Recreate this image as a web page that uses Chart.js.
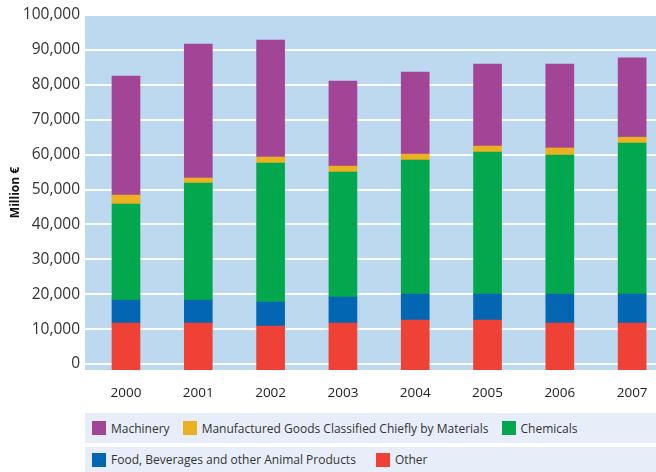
<!DOCTYPE html>
<html><head><meta charset="utf-8">
<script src="https://cdn.jsdelivr.net/npm/chart.js@4"></script>
<style>
html,body{margin:0;padding:0;background:#fff;}
#wrap{position:relative;width:656px;height:472px;overflow:hidden;font-family:"Open Sans",sans-serif;}
#c{position:absolute;left:0;top:0;}
.lrow{position:absolute;left:85px;width:564px;padding-left:7px;background:#E7EEF9;display:flex;align-items:center;}
.item{display:flex;align-items:center;font-size:12px;color:#333;white-space:nowrap;}
.box{width:14px;height:14px;margin-right:5px;flex:none;}
</style></head><body>
<div id="wrap"><canvas id="c" width="656" height="405"></canvas>
<div id="legend"></div></div>
<script>
const categories = ['2000','2001','2002','2003','2004','2005','2006','2007'];
const yTicks = [0,10000,20000,30000,40000,50000,60000,70000,80000,90000,100000];
const other = [11750, 11750, 10900, 11750, 12600, 12600, 11750, 11750];
const food = [6550, 6550, 6860, 7450, 7450, 7450, 8300, 8300];
const chemicals = [27550, 33550, 39850, 35800, 38400, 40700, 39850, 43250];
const manufactured = [2550, 1450, 1700, 1700, 1700, 1700, 2000, 1700];
const machinery = [34100, 38400, 33500, 24400, 23500, 23500, 24050, 22700];
const seriesNames = ['Other','Food, Beverages and other Animal Products','Chemicals','Manufactured Goods Classified Chiefly by Materials','Machinery'];
const seriesColors = ['#EF4136','#0366B3','#03A84E','#EBB120','#A24596'];
const legendRows = [['Machinery','Manufactured Goods Classified Chiefly by Materials','Chemicals'],['Food, Beverages and other Animal Products','Other']];

const yMin = -1700;
const seriesData = [other, food, chemicals, manufactured, machinery];
const datasets = seriesData.map((arr, k) => ({
  label: seriesNames[k],
  data: arr.map((v, i) => ({x: i, y: v})),
  backgroundColor: seriesColors[k],
  barThickness: 28,
  borderWidth: 0,
  base: k === 0 ? yMin : undefined
}));

const bgPlugin = {
  id: 'bg',
  beforeDraw(chart) {
    const {ctx, chartArea: a} = chart;
    ctx.save();
    ctx.fillStyle = '#BDD9F0';
    ctx.fillRect(a.left, a.top, a.right - a.left, a.bottom - a.top);
    ctx.restore();
  }
};

const chart = new Chart(document.getElementById('c'), {
  type: 'bar',
  data: {datasets},
  plugins: [bgPlugin],
  options: {
    responsive: false,
    animation: false,
    layout: {padding: {top: 15, right: 0, left: 0, bottom: 0}},
    plugins: {legend: {display: false}, tooltip: {enabled: false}},
    scales: {
      x: {
        type: 'linear',
        stacked: true,
        offset: false,
        min: -0.567,
        max: 7.33,
        afterBuildTicks: s => { s.ticks = categories.map((_, i) => ({value: i})); },
        afterFit: s => { s.height = 35; },
        grid: {display: false},
        border: {display: false},
        ticks: {
          callback: v => categories[v],
          font: {family: 'Open Sans', size: 13.5},
          color: '#222',
          padding: 7,
          maxRotation: 0
        }
      },
      y: {
        stacked: true,
        min: yMin,
        max: 100000,
        afterBuildTicks: s => { s.ticks = yTicks.map(v => ({value: v})); },
        afterFit: s => { s.width = 85; },
        grid: {color: 'rgba(255,255,255,0.95)', lineWidth: 2, drawTicks: false},
        border: {display: false},
        ticks: {
          callback: v => v.toLocaleString('en-US'),
          font: {family: 'Open Sans', size: 15.5},
          color: '#333',
          padding: 5
        },
        title: {
          display: true,
          text: 'Million €',
          font: {family: 'Open Sans', size: 12, weight: 'bold'},
          color: '#111',
          padding: {top: 8, bottom: 0}
        }
      }
    }
  }
});

const legend = document.getElementById('legend');
const rowTops = [413, 447], rowHeights = [30, 25], rowGaps = [13, 20];
legendRows.forEach((row, r) => {
  const div = document.createElement('div');
  div.className = 'lrow';
  div.style.top = rowTops[r] + 'px';
  div.style.height = rowHeights[r] + 'px';
  row.forEach((name, j) => {
    const k = seriesNames.indexOf(name);
    const it = document.createElement('div');
    it.className = 'item';
    if (j < row.length - 1) it.style.marginRight = rowGaps[r] + 'px';
    const b = document.createElement('span');
    b.className = 'box';
    b.style.background = chart.data.datasets[k].backgroundColor;
    const t = document.createElement('span');
    t.textContent = name;
    it.appendChild(b); it.appendChild(t);
    div.appendChild(it);
  });
  legend.appendChild(div);
});
</script>
</body></html>
